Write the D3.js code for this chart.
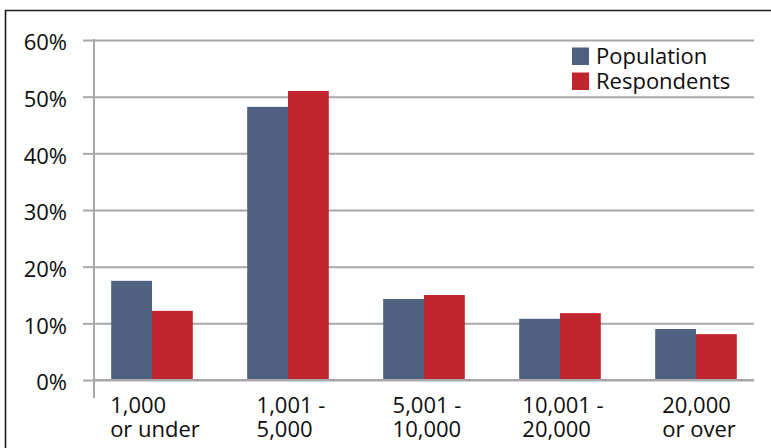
<!DOCTYPE html>
<html>
<head>
<meta charset="utf-8">
<script src="https://cdn.jsdelivr.net/npm/d3@7"></script>
<style>
  html, body { margin: 0; padding: 0; background: #fff; }
  svg { display: block; }
  text { font-family: "Open Sans", sans-serif; fill: #0d0d0d; }
</style>
</head>
<body>
<svg id="chart" width="771" height="448"></svg>
<script>
const categories = ["1,000\nor under", "1,001 -\n5,000", "5,001 -\n10,000", "10,001 -\n20,000", "20,000\nor over"];
const seriesNames = ["Population", "Respondents"];
const population = [0.175, 0.482, 0.143, 0.108, 0.090];
const respondents = [0.122, 0.510, 0.150, 0.118, 0.081];
const yTicks = [0, 0.1, 0.2, 0.3, 0.4, 0.5, 0.6];
const colors = ["#4e6180", "#c1262e"];

const svg = d3.select("#chart");
const axisX = 94, gridRight = 754, tickLeft = 83;

const y = d3.scaleLinear().domain([0, 0.6]).range([380, 40]);
const x0 = d3.scaleBand().domain(categories).range([84, 764]).paddingInner(0.4).paddingOuter(0.2);
const x1 = d3.scaleBand().domain(seriesNames).range([0, x0.bandwidth()]);
const color = d3.scaleOrdinal().domain(seriesNames).range(colors);

// frame
svg.append("line").attr("x1", 5).attr("x2", 771).attr("y1", 10.5).attr("y2", 10.5)
  .attr("stroke", "#1a1a1a").attr("stroke-width", 1.6);
svg.append("line").attr("x1", 5.5).attr("x2", 5.5).attr("y1", 10).attr("y2", 448)
  .attr("stroke", "#1a1a1a").attr("stroke-width", 1.6);

// gridlines
const grid = svg.append("g").attr("transform", `translate(${axisX},0)`)
  .call(d3.axisLeft(y).tickValues(yTicks).tickSize(-(gridRight - axisX)).tickFormat(""));
grid.select(".domain").remove();
grid.selectAll("line").attr("stroke", "#a8a8a8").attr("stroke-width", 2);

// bars
const data = categories.map((c, i) => ({ cat: c, vals: [population[i], respondents[i]] }));
const groups = svg.append("g").selectAll("g").data(data).join("g")
  .attr("transform", d => `translate(${x0(d.cat)},0)`);
groups.selectAll("rect").data(d => d.vals.map((v, j) => ({ key: seriesNames[j], v })))
  .join("rect")
  .attr("x", d => x1(d.key))
  .attr("width", x1.bandwidth())
  .attr("y", d => y(d.v))
  .attr("height", d => y(0) - y(d.v))
  .attr("fill", d => color(d.key));

// baseline redraw over bars
svg.append("line").attr("x1", axisX).attr("x2", gridRight).attr("y1", y(0)).attr("y2", y(0))
  .attr("stroke", "#a8a8a8").attr("stroke-width", 2);

// y axis with ticks and labels
const yAxis = svg.append("g").attr("transform", `translate(${axisX},0)`)
  .call(d3.axisLeft(y).tickValues(yTicks).tickSize(axisX - tickLeft).tickPadding(16)
    .tickFormat(d3.format(".0%")));
yAxis.select(".domain").remove();
yAxis.selectAll("line").attr("stroke", "#a8a8a8").attr("stroke-width", 2);
yAxis.selectAll("text").attr("font-size", 22).attr("font-family", "'Open Sans', sans-serif")
  .attr("fill", "#0d0d0d").attr("dy", "0.45em");

// vertical axis line
svg.append("line").attr("x1", axisX).attr("x2", axisX).attr("y1", y(0.6) - 1).attr("y2", 398)
  .attr("stroke", "#a8a8a8").attr("stroke-width", 2);

// category labels
const labels = svg.append("g").selectAll("text").data(categories).join("text")
  .attr("font-size", 22);
labels.each(function(d) {
  const t = d3.select(this);
  d.split("\n").forEach((line, k) => {
    t.append("tspan").text(line).attr("y", 413 + k * 24);
  });
  let maxW = 0;
  t.selectAll("tspan").each(function() { maxW = Math.max(maxW, this.getComputedTextLength()); });
  const cx = x0(d) + x0.bandwidth() / 2;
  t.selectAll("tspan").attr("x", cx - maxW / 2 + 3);
});

// legend
const legend = svg.append("g").selectAll("g").data(seriesNames).join("g")
  .attr("transform", (d, i) => `translate(572,${47.5 + i * 25})`);
legend.append("rect").attr("width", 17).attr("height", 17.5).attr("fill", d => color(d));
legend.append("text").attr("x", 24).attr("y", 16.5).attr("font-size", 22).text(d => d);
</script>
</body>
</html>
